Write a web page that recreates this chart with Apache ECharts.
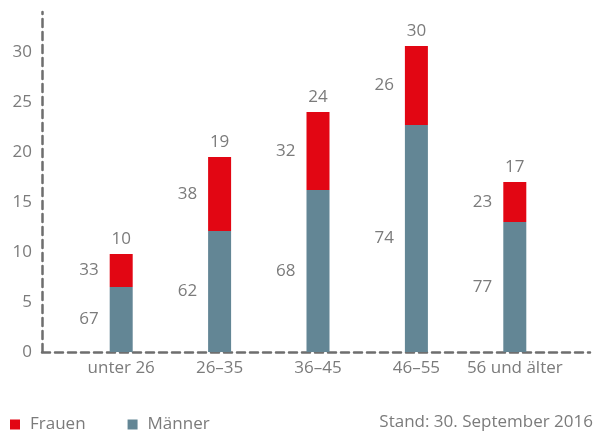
<!DOCTYPE html>
<html>
<head>
<meta charset="utf-8">
<script src="https://cdn.jsdelivr.net/npm/echarts@6/dist/echarts.min.js"></script>
<style>
  html, body { margin: 0; padding: 0; background: #fff; }
</style>
</head>
<body>
<div id="chart" style="width: 594px; height: 435px"></div>
<script>
const categories = ['unter 26', '26–35', '36–45', '46–55', '56 und älter']
const maenner = [6.5, 12.1, 16.2, 22.7, 13.0]
const frauen = [3.3, 7.4, 7.8, 7.9, 4.0]
const totalLabels = [10, 19, 24, 30, 17]
const maennerPct = [67, 62, 68, 74, 77]
const frauenPct = [33, 38, 32, 26, 23]

const textColor = '#7b7b7b'
const font = 'Open Sans'
const fs = 17
const dashed = { color: '#6e6e6e', width: 2.5, type: [8, 5] }

const chart = echarts.init(document.getElementById('chart'))

chart.setOption({
  animation: false,
  textStyle: { fontFamily: font },
  title: {
    text: 'Stand: 30. September 2016',
    right: 0,
    top: 414,
    padding: [0, 1, 0, 0],
    textStyle: { color: textColor, fontSize: fs, fontWeight: 'normal', fontFamily: font }
  },
  legend: {
    data: ['Frauen', 'Männer'],
    left: 10,
    top: 416,
    icon: 'rect',
    itemWidth: 10,
    itemHeight: 10,
    itemGap: 42,
    padding: 0,
    textStyle: { color: textColor, fontSize: fs, fontFamily: font, padding: [0, 0, 0, 5] }
  },
  grid: [
    { left: 42, right: 4, top: 12, bottom: 83 },
    { left: 72, right: 30, top: 12, bottom: 83 }
  ],
  xAxis: [
    {
      gridIndex: 0,
      type: 'category',
      data: [''],
      axisLine: { show: true, lineStyle: dashed },
      axisTick: { show: false },
      axisLabel: { show: false }
    },
    {
      gridIndex: 1,
      type: 'category',
      data: categories,
      axisLine: { show: false },
      axisTick: { show: false },
      axisLabel: { color: textColor, fontSize: fs, margin: 8, interval: 0, hideOverlap: false, fontFamily: font }
    }
  ],
  yAxis: [
    {
      gridIndex: 0,
      type: 'value',
      min: 0,
      max: 34,
      interval: 5,
      axisLine: { show: true, lineStyle: dashed },
      axisTick: { show: false },
      splitLine: { show: false },
      axisLabel: { color: textColor, fontSize: fs, margin: 10, showMaxLabel: false, fontFamily: font }
    },
    {
      gridIndex: 1,
      type: 'value',
      min: 0,
      max: 34,
      show: false,
      splitLine: { show: false }
    }
  ],
  series: [
    {
      name: 'Männer',
      type: 'bar',
      stack: 'gesamt',
      xAxisIndex: 1,
      yAxisIndex: 1,
      barWidth: 23,
      data: maenner,
      itemStyle: { color: '#638695' },
      label: {
        show: true,
        position: 'left',
        distance: 11,
        color: textColor,
        fontSize: fs,
        fontFamily: font,
        formatter: (p) => maennerPct[p.dataIndex]
      }
    },
    {
      name: 'Frauen',
      type: 'bar',
      stack: 'gesamt',
      xAxisIndex: 1,
      yAxisIndex: 1,
      barWidth: 23,
      data: frauen,
      itemStyle: { color: '#e20613' },
      label: {
        show: true,
        position: 'left',
        distance: 11,
        color: textColor,
        fontSize: fs,
        fontFamily: font,
        formatter: (p) => frauenPct[p.dataIndex]
      }
    },
    {
      name: 'Gesamt',
      type: 'bar',
      stack: 'gesamt',
      xAxisIndex: 1,
      yAxisIndex: 1,
      barWidth: 23,
      data: totalLabels.map(() => 0),
      itemStyle: { color: 'transparent' },
      label: {
        show: true,
        position: 'top',
        distance: 6,
        color: textColor,
        fontSize: fs,
        fontFamily: font,
        formatter: (p) => totalLabels[p.dataIndex]
      }
    }
  ]
})
</script>
</body>
</html>
